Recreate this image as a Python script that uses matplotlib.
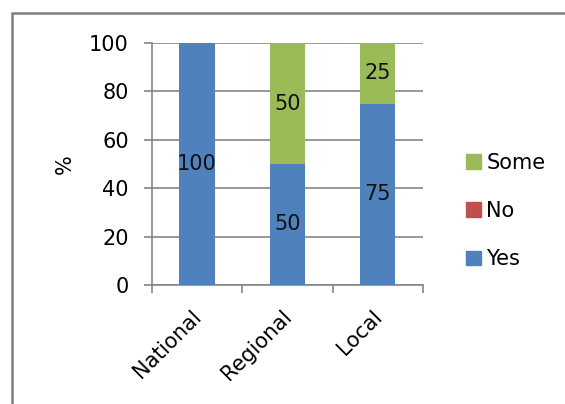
import numpy as np
import matplotlib.pyplot as plt
import matplotlib.transforms as mtransforms
from matplotlib.patches import Rectangle, Patch

# survey answers by level (percent)
levels = ['National', 'Regional', 'Local']
yes_pct = [100, 50, 75]
no_pct = [0, 0, 0]
some_pct = [0, 50, 25]

c_yes = '#4F81BD'
c_no = '#C0504D'
c_some = '#9BBB59'
grid_c = '#868686'

plt.rcParams['font.family'] = 'DejaVu Sans'
plt.rcParams['font.size'] = 15

fig = plt.figure(figsize=(5.65, 4.04), dpi=100)
ax = fig.add_axes([151.7/565, 1 - 285/404, 271.3/565, 242/404])

x = np.arange(len(levels))
w = 0.39
yes = np.array(yes_pct)
no = np.array(no_pct)
some = np.array(some_pct)

b_yes = ax.bar(x, yes, w, color=c_yes, zorder=3)
b_no = ax.bar(x, no, w, bottom=yes, color=c_no, zorder=3)
b_some = ax.bar(x, some, w, bottom=yes + no, color=c_some, zorder=3)

# value labels in the middle of each non-empty segment
for bars, vals in ((b_yes, yes), (b_no, no), (b_some, some)):
    for rect, v in zip(bars, vals):
        if v > 0:
            ax.text(rect.get_x() + rect.get_width() / 2,
                    rect.get_y() + rect.get_height() / 2,
                    f'{v:g}', ha='center', va='center', fontsize=15,
                    color='#111111', zorder=4)

ax.set_xlim(-0.5, len(levels) - 0.5)
ax.set_ylim(0, 100)
ax.set_yticks(range(0, 101, 20))
ax.yaxis.grid(True, color=grid_c, linewidth=1.2, zorder=0)
ax.set_axisbelow(True)

# category ticks sit between the bars
ax.set_xticks(x)
ax.set_xticklabels(levels, rotation=45, ha='right', rotation_mode='anchor')
ax.set_xticks(np.arange(-0.5, len(levels), 1), minor=True)
ax.tick_params(axis='x', which='major', length=0, pad=12)
ax.tick_params(axis='x', which='minor', length=6, color=grid_c, width=1.2)
ax.tick_params(axis='y', length=6, color=grid_c, width=1.2, pad=10.5)

# nudge the slanted labels a little down and left
shift = mtransforms.ScaledTranslation(-6/100, -5/100, fig.dpi_scale_trans)
for lbl in ax.get_xticklabels():
    lbl.set_transform(lbl.get_transform() + shift)

for side in ('top', 'right'):
    ax.spines[side].set_visible(False)
for side in ('left', 'bottom'):
    ax.spines[side].set_color(grid_c)
    ax.spines[side].set_linewidth(1.2)

ax.set_ylabel('%', fontsize=15, labelpad=10)

handles = [Patch(color=c_some, label='Some'),
           Patch(color=c_no, label='No'),
           Patch(color=c_yes, label='Yes')]
fig.legend(handles=handles, loc='center left',
           bbox_to_anchor=(447/565, 1 - 211/404), frameon=False,
           handlelength=0.72, handleheight=0.72, handletextpad=0.26,
           labelspacing=1.36, fontsize=15)

# chart frame
fig.patches.append(Rectangle((12/565, -0.1), 1.2, 1 - 13/404 + 0.1,
                             transform=fig.transFigure, fill=False,
                             edgecolor='#7F7F7F', linewidth=1.8))

fig.savefig('out.png', dpi=100)
